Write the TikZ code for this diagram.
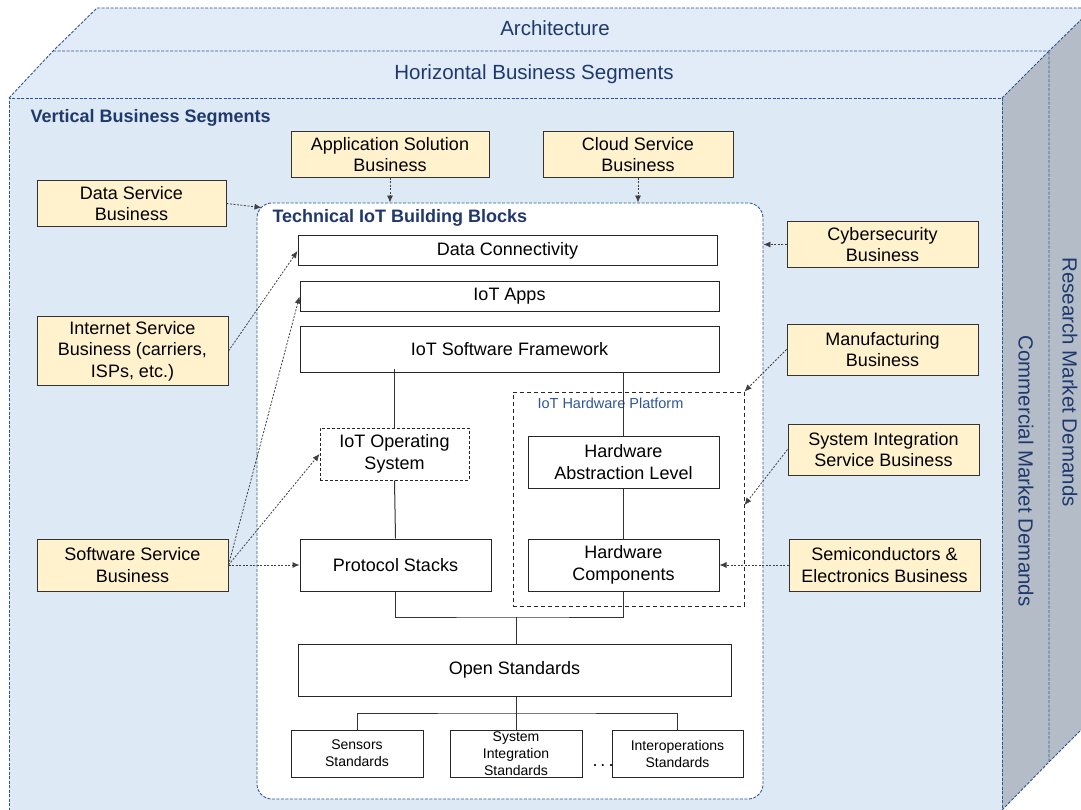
\documentclass[tikz,border=0pt]{standalone}
\usepackage{fontspec}
\setmainfont{Liberation Sans}
\usetikzlibrary{arrows.meta}
\definecolor{faceblue}{RGB}{222,233,246}
\definecolor{topblue}{RGB}{226,236,248}
\definecolor{sidegrey}{RGB}{180,189,199}
\definecolor{edgeblue}{RGB}{47,85,151}
\definecolor{navy}{RGB}{31,56,110}
\definecolor{bizyellow}{RGB}{255,242,204}

\begin{document}
\begin{tikzpicture}[x=1pt,y=-1pt,
    edge/.style={edgeblue,line width=0.9pt,dash pattern=on 3pt off 1.5pt},
    heading/.style={text=navy,font=\fontsize{20.5}{24}\selectfont},
    blk/.style={draw=black!85,line width=1pt,fill=white,align=center,inner sep=0pt,font=\fontsize{18}{21.5}\selectfont},
    std/.style={blk,font=\fontsize{14}{17}\selectfont,minimum width=132pt,minimum height=47pt},
    biz/.style={blk,fill=bizyellow,draw=black!80},
    link/.style={black!75,line width=0.8pt,dash pattern=on 2pt off 1.5pt,-{Latex[length=7pt,width=6pt]}},
    wire/.style={black!80,line width=1pt}]
    \useasboundingbox (0,0) rectangle (1081,810);
    \clip (0,0) rectangle (1081,810);
    % Draw the faces of the box
    \fill[faceblue] (9,98) rectangle (1002,815);
    \fill[topblue] (9,98) -- (53,51) -- (1049,51) -- (1002,98) -- cycle;
    \fill[topblue] (53,51) -- (97,8) -- (1093,8) -- (1049,51) -- cycle;
    \fill[sidegrey] (1002,98) -- (1049,51) -- (1049,762) -- (1002,810) -- cycle;
    \fill[sidegrey] (1049,51) -- (1093,8) -- (1093,718) -- (1049,762) -- cycle;
    % Dashed edges
    \draw[edge] (9,815) -- (9,98) -- (1002,98) -- (1002,815);
    \draw[edge] (9,98) -- (53,51) -- (97,8) -- (1093,8);
    \draw[edge] (53,51) -- (1049,51) -- (1093,8);
    \draw[edge] (1002,98) -- (1049,51) -- (1049,762);
    \draw[edge] (1002,810) -- (1049,762) -- (1093,718);
    % Labels of the faces
    \node[heading] (arch) at (555,28) {Architecture};
    \node[heading] (hbs) at (534,74.5) {Horizontal Business Segments};
    \node[heading,rotate=-90] (cmd) at (1026,471) {Commercial Market Demands};
    \node[heading,rotate=-90] (rmd) at (1070,382) {Research Market Demands};
    \node[anchor=west,text=navy,font=\bfseries\fontsize{18}{21}\selectfont] (vbs) at (27,118) {Vertical Business Segments};
    % Technical building blocks
    \node[draw=edgeblue,fill=white,line width=0.9pt,dash pattern=on 3pt off 1.5pt,rounded corners=15pt,
        minimum width=506pt,minimum height=596pt] (tib) at (510,501) {};
    \node[anchor=west,text=navy,font=\bfseries\fontsize{18}{21}\selectfont] (tibl) at (269,218) {Technical IoT Building Blocks};
    \node[blk,minimum width=419pt,minimum height=30pt] (dc) at (507.5,251) {Data Connectivity};
    \node[blk,minimum width=419pt,minimum height=29pt] (apps) at (509.5,296.5) {IoT Apps};
    \node[blk,minimum width=419pt,minimum height=46pt] (fw) at (509.5,349) {IoT Software Framework};
    \node[draw=black!85,line width=1pt,dash pattern=on 4pt off 3pt,minimum width=231pt,minimum height=214pt] (hwp) at (628.5,499) {};
    \node[anchor=west,text=edgeblue,font=\fontsize{14.5}{17}\selectfont] (hwpl) at (534,403) {IoT Hardware Platform};
    \node[blk,dash pattern=on 3pt off 2pt,minimum width=149pt,minimum height=52pt] (os) at (394.5,454) {IoT Operating\\System};
    \node[blk,minimum width=191pt,minimum height=52pt] (ps) at (395.5,565) {Protocol Stacks};
    \node[blk,minimum width=191pt,minimum height=52pt] (hal) at (623.5,462) {Hardware\\Abstraction Level};
    \node[blk,minimum width=191pt,minimum height=52pt] (hc) at (623.5,565) {Hardware\\Components};
    \node[blk,minimum width=433pt,minimum height=52pt] (ops) at (514.5,670) {Open Standards};
    \node[std] (ss) at (357,753.5) {Sensors\\Standards};
    \node[std] (sis) at (516,753.5) {System\\Integration\\Standards};
    \node[std,minimum width=131pt] (ios) at (677.5,753.5) {Interoperations\\Standards};
    \node[font=\fontsize{18}{21}\selectfont] (dots) at (603,766) {.\,.\,.};
    % Solid connections
    \coordinate (jn) at (516,617);
    \coordinate (jb) at (516,713);
    \draw[wire] (os.north) -- ([yshift=4pt]os.north |- fw.south);
    \draw[wire] (os.south) -- (ps.north);
    \draw[wire] (hal.north) -- (hal.north |- fw.south);
    \draw[wire] (hal.south) -- (hc.north);
    \draw[wire] (ps.south) |- (jn) -| (hc.south);
    \draw[wire] (jn) -- (jn |- ops.north);
    \draw[wire] (ops.south -| jb) -- (jb);
    \draw[wire] (ss.north) |- (jb) -| (ios.north);
    \draw[wire] (jb) -- (sis.north);
    % Business segments
    \node[biz,minimum width=198pt,minimum height=46pt] (asb) at (390,154.5) {Application Solution\\Business};
    \node[biz,minimum width=190pt,minimum height=46pt] (csb) at (638,154.5) {Cloud Service\\Business};
    \node[biz,minimum width=189pt,minimum height=46pt] (dsb) at (131.5,203.5) {Data Service\\Business};
    \node[biz,minimum width=191pt,minimum height=69pt] (isb) at (132.5,351) {Internet Service\\Business (carriers,\\ISPs, etc.)};
    \node[biz,minimum width=191pt,minimum height=52pt] (ssb) at (132.5,565) {Software Service\\Business};
    \node[biz,minimum width=191pt,minimum height=46pt] (cyb) at (882.5,244.5) {Cybersecurity\\Business};
    \node[biz,minimum width=191pt,minimum height=51pt] (mfb) at (882.5,349.5) {Manufacturing\\Business};
    \node[biz,minimum width=191pt,minimum height=51pt] (sib) at (883.5,449.5) {System Integration\\Service Business};
    \node[biz,minimum width=191pt,minimum height=52pt] (scb) at (884.5,565) {Semiconductors \&\\Electronics Business};
    % Dotted arrows into the building blocks
    \draw[link] (asb.south) -- (asb.south |- tib.north);
    \draw[link] (csb.south) -- (csb.south |- tib.north);
    \draw[link] (dsb.east) -- ([shift={(5,5)}]tib.north west);
    \draw[link] (isb.east) -- (dc.west);
    \draw[link] (ssb.east) -- (apps.west);
    \draw[link] (ssb.east) -- (os.west);
    \draw[link] (ssb.east) -- (ps.west);
    \draw[link] (cyb.west) -- (cyb.west -| tib.east);
    \draw[link] (mfb.west) -- (hwp.north east);
    \draw[link] (sib.west) -- ([yshift=-6pt]hwp.east);
    \draw[link] (scb.west) -- (hc.east);
\end{tikzpicture}
\end{document}
